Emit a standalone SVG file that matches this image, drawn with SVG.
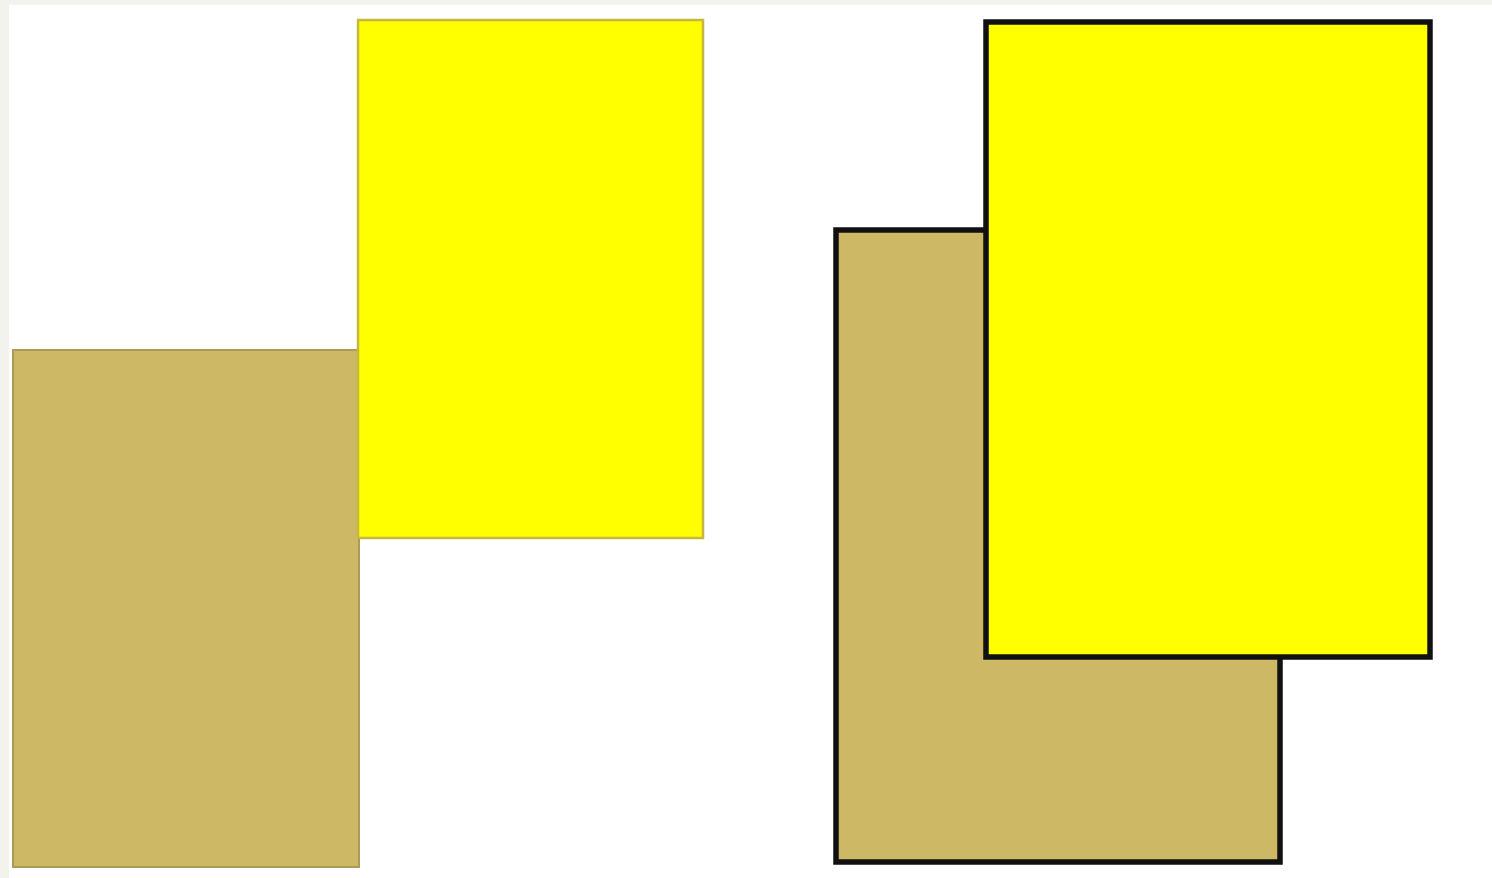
<svg xmlns="http://www.w3.org/2000/svg" width="1492" height="878" viewBox="0 0 1492 878">
  <style>
    .tan { fill: #cdb866; }
    .yel { fill: #ffff00; }
    .soft-tan { stroke: #ab9a58; stroke-width: 2; }
    .soft-yel { stroke: #c6b642; stroke-width: 2.5; }
    .bold { stroke: #111111; stroke-width: 5.5; }
  </style>
  <rect x="0" y="0" width="1492" height="878" fill="#f3f3ee"/>
  <rect x="9" y="5" width="1483" height="873" fill="#ffffff"/>
  <g id="left-tan">
    <rect class="tan soft-tan" x="13" y="350" width="346" height="517"/>
  </g>
  <g id="left-yellow">
    <rect class="yel soft-yel" x="358" y="20" width="345" height="518"/>
  </g>
  <g id="right-tan">
    <rect class="tan bold" x="836" y="230" width="444" height="632"/>
  </g>
  <g id="right-yellow">
    <rect class="yel bold" x="986" y="22" width="444" height="635"/>
  </g>
</svg>
